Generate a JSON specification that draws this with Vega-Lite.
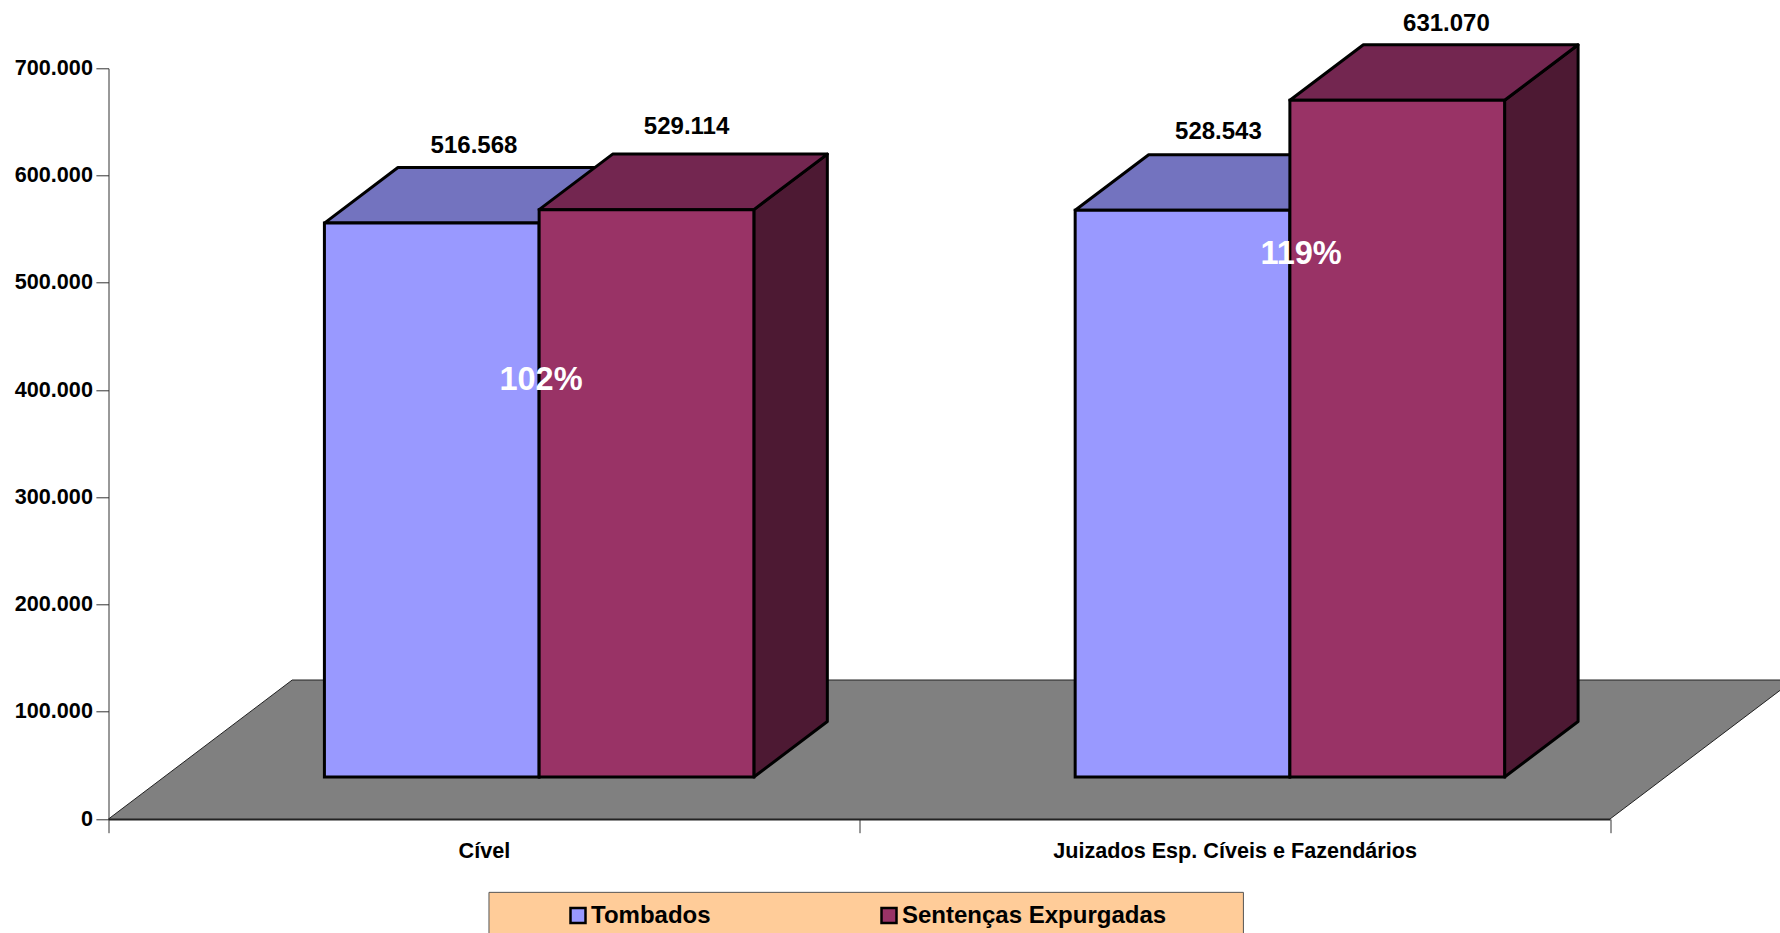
{
"$schema":"https://vega.github.io/schema/vega-lite/v6.json",
"width":1501.5,"height":750.7,
"autosize":{"type":"none"},
"padding":{"left":108.5,"top":68.3,"right":170,"bottom":114},
"background":"white",
"config":{"view":{"stroke":null},"font":"Liberation Sans"},
"data":{"values":[
{"categoria":"Cível","serie":"Tombados","valor":516568},
{"categoria":"Cível","serie":"Sentenças Expurgadas","valor":529114},
{"categoria":"Juizados Esp. Cíveis e Fazendários","serie":"Tombados","valor":528543},
{"categoria":"Juizados Esp. Cíveis e Fazendários","serie":"Sentenças Expurgadas","valor":631070}
]},
"transform":[
{"calculate":"datum.categoria==='Cível'?0:1","as":"ci"},
{"calculate":"datum.serie==='Tombados'?0:1","as":"si"},
{"calculate":"datum.ci+0.2876+datum.si*0.286","as":"x0"},
{"calculate":"datum.x0+0.286","as":"x1"},
{"calculate":"datum.valor+39100","as":"topo"},
{"calculate":"datum.ci*2+datum.si","as":"idx"}
],
"layer":[
{"data":{"values":[{"p":0},{"p":1}]},
 "transform":[
 {"calculate":"datum.p*129600","as":"fy"},
 {"calculate":"datum.p*0.2447","as":"fx"},
 {"calculate":"2+datum.p*0.2447","as":"fx2"}],
 "mark":{"type":"area","orient":"horizontal","fill":"#808080","stroke":"#222222","strokeWidth":1},
 "encoding":{
  "y":{"field":"fy","type":"quantitative","scale":{"domain":[0,700000],"nice":false,"zero":false},
   "axis":{"title":null,"grid":false,"values":[0,100000,200000,300000,400000,500000,600000,700000],
    "labelExpr":"replace(format(datum.value,','),',','.')",
    "labelFont":"Liberation Sans","labelFontWeight":"bold","labelFontSize":21.6,"labelColor":"black","labelPadding":3.5,
    "tickSize":12.6,"tickColor":"#333333","domainColor":"#333333","tickWidth":1,"domainWidth":1}},
  "x":{"field":"fx","type":"quantitative","scale":{"domain":[0,2],"nice":false,"zero":false},
   "axis":{"title":null,"grid":false,"values":[0,0.5,1,1.5,2],
    "labelExpr":"datum.value===0.5?'Cível':datum.value===1.5?'Juizados Esp. Cíveis e Fazendários':''",
    "tickOpacity":{"expr":"datum.value%1===0?1:0"},
    "labelFont":"Liberation Sans","labelFontWeight":"bold","labelFontSize":21.6,"labelColor":"black","labelPadding":8,"labelOverlap":false,"labelFlush":false,"labelBound":false,"labelLimit":600,
    "tickSize":13.7,"tickColor":"#333333","domainColor":"#222222","tickWidth":1,"domainWidth":2}},
  "x2":{"field":"fx2"}
 }},
{"transform":[
 {"calculate":"[0,1]","as":"t"},{"flatten":["t"]},
 {"calculate":"datum.x1+datum.t*0.0979","as":"sx"},
 {"calculate":"39100+datum.t*51800","as":"sy0"},
 {"calculate":"datum.topo+datum.t*51800","as":"sy1"}],
 "mark":{"type":"area","orient":"vertical","stroke":"black","strokeWidth":3,"strokeJoin":"round"},
 "encoding":{
  "x":{"field":"sx","type":"quantitative"},
  "y":{"field":"sy0","type":"quantitative"},
  "y2":{"field":"sy1"},
  "detail":{"field":"idx"},
  "fill":{"condition":{"test":"datum.serie==='Tombados'","value":"#4D4D80"},"value":"#4D1933"}
 }},
{"transform":[
 {"calculate":"[0,1]","as":"t"},{"flatten":["t"]},
 {"calculate":"datum.topo+datum.t*51800","as":"ty"},
 {"calculate":"datum.x0+datum.t*0.0979","as":"tx0"},
 {"calculate":"datum.x1+datum.t*0.0979","as":"tx1"}],
 "mark":{"type":"area","orient":"horizontal","stroke":"black","strokeWidth":3,"strokeJoin":"round"},
 "encoding":{
  "y":{"field":"ty","type":"quantitative"},
  "x":{"field":"tx0","type":"quantitative"},
  "x2":{"field":"tx1"},
  "detail":{"field":"idx"},
  "order":{"field":"idx"},
  "fill":{"condition":{"test":"datum.serie==='Tombados'","value":"#7373BF"},"value":"#732650"}
 }},
{"transform":[{"calculate":"39100","as":"base"}],
 "mark":{"type":"rect","stroke":"black","strokeWidth":3,"strokeJoin":"miter"},
 "encoding":{
  "x":{"field":"x0","type":"quantitative"},
  "x2":{"field":"x1"},
  "y":{"field":"base","type":"quantitative"},
  "y2":{"field":"topo"},
  "fill":{"field":"serie","type":"nominal",
   "scale":{"domain":["Tombados","Sentenças Expurgadas"],"range":["#9999FF","#993366"]},
   "legend":{"title":null,"orient":"none","legendX":457.5,"legendY":835,"direction":"horizontal","columns":2,"padding":0,
    "symbolType":"square","symbolSize":225,"symbolStrokeColor":"black","symbolStrokeWidth":2.5,"symbolOpacity":1,
    "labelFont":"Liberation Sans","labelFontWeight":"bold","labelFontSize":24,"labelColor":"black","labelOffset":1,"labelLimit":400,
    "columnPadding":165}}
 }},
{"transform":[
 {"calculate":"datum.x0+0.143+[0.0562,0.0534,0.0478,0.0655][datum.idx]","as":"lx"},
 {"calculate":"datum.topo+51800+[20300,25500,21000,19300][datum.idx]","as":"ly"},
 {"calculate":"replace(format(datum.valor,','),',','.')","as":"rotulo"}],
 "mark":{"type":"text","font":"Liberation Sans","fontWeight":"bold","fontSize":24,"color":"black","baseline":"middle","align":"center"},
 "encoding":{
  "x":{"field":"lx","type":"quantitative"},
  "y":{"field":"ly","type":"quantitative"},
  "text":{"field":"rotulo"}
 }},
{"data":{"values":[{"categoria":"Cível","razao":"102%"},{"categoria":"Juizados Esp. Cíveis e Fazendários","razao":"119%"}]},
 "transform":[
 {"calculate":"datum.categoria==='Cível'?0.5761:1.5885","as":"px"},
 {"calculate":"datum.categoria==='Cível'?409400:526900","as":"py"}],
 "mark":{"type":"text","font":"Liberation Sans","fontWeight":"bold","fontSize":32.5,"color":"white","baseline":"middle","align":"center"},
 "encoding":{
  "x":{"field":"px","type":"quantitative"},
  "y":{"field":"py","type":"quantitative"},
  "text":{"field":"razao"}
 }},
{"data":{"values":[{"caixa":"legenda"}]},
 "mark":{"type":"rect","fill":"#FFCC99","stroke":"#555555","strokeWidth":1},
 "encoding":{
  "x":{"datum":0.5068,"type":"quantitative"},
  "x2":{"datum":1.5117},
  "y":{"datum":-68400,"type":"quantitative"},
  "y2":{"datum":-113000}
 }}
]
}
